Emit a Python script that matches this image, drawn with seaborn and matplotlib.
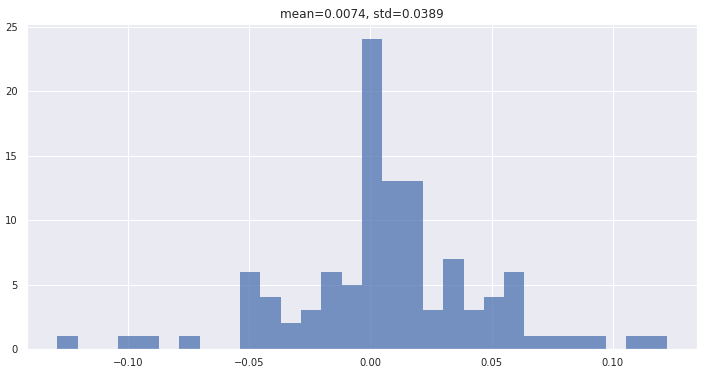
import numpy as np
import pandas as pd
import matplotlib
matplotlib.use("Agg")
import matplotlib.pyplot as plt
import seaborn as sns

# Histogram (30 equal-width bins)
bin_start = -0.1293
bin_end = 0.1223
counts = [1, 0, 0, 1, 1, 0, 1, 0, 0, 6,
          4, 2, 3, 6, 5, 24, 13, 13, 3, 7,
          3, 4, 6, 1, 1, 1, 1, 0, 1, 1]
title = "mean=0.0074, std=0.0389"

edges = np.linspace(bin_start, bin_end, len(counts) + 1)
centers = (edges[:-1] + edges[1:]) / 2
df = pd.DataFrame({"value": centers, "count": counts})

sns.set_theme(style="darkgrid")
fig, ax = plt.subplots(figsize=(703 / 72, 373 / 72), dpi=72)
fig.subplots_adjust(left=27 / 703, right=697 / 703, bottom=1 - 349 / 373, top=1 - 24 / 373)

sns.histplot(data=df, x="value", weights="count", bins=list(edges), alpha=0.75,
             color="#4c72b0", linewidth=0, ax=ax)
ax.set_ylabel("")
ax.set_xlabel("")
ax.set_title(title, fontsize=12)
ax.tick_params(labelsize=10)

fig.savefig("out.png", dpi=72)
